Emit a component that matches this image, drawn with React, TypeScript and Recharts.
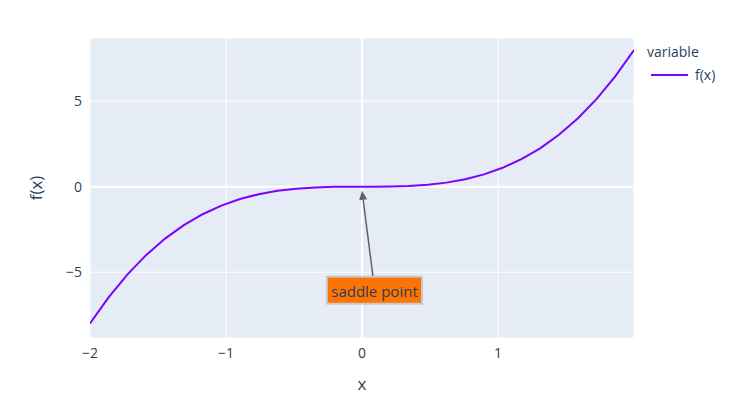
import React from "react";
import {
  LineChart,
  Line,
  XAxis,
  YAxis,
  CartesianGrid,
  ReferenceLine,
  ReferenceDot,
} from "recharts";

// values (30 samples from -2 to 2)
const xValues = [
  -2, -1.862, -1.724, -1.586, -1.448, -1.31, -1.172, -1.034, -0.897, -0.759,
  -0.621, -0.483, -0.345, -0.207, -0.069, 0.069, 0.207, 0.345, 0.483, 0.621,
  0.759, 0.897, 1.034, 1.172, 1.31, 1.448, 1.586, 1.724, 1.862, 2,
];
const fValues = [
  -8, -6.457, -5.124, -3.989, -3.036, -2.248, -1.61, -1.106, -0.721, -0.437,
  -0.239, -0.113, -0.041, -0.009, -0.0003, 0.0003, 0.009, 0.041, 0.113, 0.239,
  0.437, 0.721, 1.106, 1.61, 2.248, 3.036, 3.989, 5.124, 6.457, 8,
];
const xTicks = [-2, -1, 0, 1];
const yTicks = [-5, 0, 5];
const seriesName = "f(x)";
const legendTitle = "variable";
const annotationText = "saddle point";

const data = xValues.map((x, i) => ({ x, y: fValues[i] }));

const FONT = '"Open Sans", "Noto Sans", sans-serif';
const TEXT = "#2a3f5f";
const LINE = "#7f00ff";

const fmt = (v: number) => (v < 0 ? "\u2212" + Math.abs(v) : String(v));

const Annotation = (props: any) => {
  const { cx, cy } = props;
  if (cx == null || cy == null) return null;
  const tipX = cx;
  const tipY = cy + 4;
  const tailX = cx + 11;
  const tailY = cy + 90;
  const ang = Math.atan2(tipY - tailY, tipX - tailX);
  const hl = 9;
  const hw = 4;
  const bx = tipX - hl * Math.cos(ang);
  const by = tipY - hl * Math.sin(ang);
  const px = -Math.sin(ang) * hw;
  const py = Math.cos(ang) * hw;
  return (
    <g>
      <line x1={tailX} y1={tailY} x2={bx} y2={by} stroke="#636363" strokeWidth={1.5} />
      <polygon
        points={`${tipX},${tipY} ${bx + px},${by + py} ${bx - px},${by - py}`}
        fill="#636363"
      />
      <rect x={cx - 35} y={cy + 90} width={95} height={27} fill="#ff7300" stroke="#c7c7c7" strokeWidth={2} />
      <text
        x={cx + 12.5}
        y={cy + 104}
        textAnchor="middle"
        dominantBaseline="central"
        fontFamily={FONT}
        fontSize={15}
        fill={TEXT}
      >
        {annotationText}
      </text>
    </g>
  );
};

export default function App() {
  return (
    <div style={{ position: "fixed", left: 0, top: 0, width: 731, height: 409, background: "#fff", fontFamily: FONT }}>
      <LineChart
        width={731}
        height={409}
        data={data}
        margin={{ top: 38, right: 97, bottom: 0, left: 0 }}
      >
        <CartesianGrid fill="#e5ecf6" stroke="#ffffff" strokeWidth={1} />
        <XAxis
          dataKey="x"
          type="number"
          domain={[-2, 2]}
          ticks={xTicks}
          allowDataOverflow
          height={71}
          axisLine={false}
          tickLine={false}
          tickFormatter={fmt}
          tick={{ fill: TEXT, fontSize: 14, fontFamily: FONT }}
          tickMargin={4}
          label={(p: any) => {
            const vb = p.viewBox || {};
            return (
              <text x={vb.x + vb.width / 2} y={vb.y + 45} textAnchor="middle" dominantBaseline="central" fill={TEXT} fontSize={17} fontFamily={FONT}>
                x
              </text>
            );
          }}
        />
        <YAxis
          type="number"
          domain={[-8.85, 8.7]}
          ticks={yTicks}
          allowDataOverflow
          width={90}
          axisLine={false}
          tickLine={false}
          tickFormatter={fmt}
          tick={{ fill: TEXT, fontSize: 14, fontFamily: FONT }}
          tickMargin={2}
          label={(p: any) => {
            const vb = p.viewBox || {};
            const cx = 35;
            const cy = vb.y + vb.height / 2;
            return (
              <text x={cx} y={cy} transform={`rotate(-90 ${cx} ${cy})`} textAnchor="middle" dominantBaseline="central" fill={TEXT} fontSize={17} fontFamily={FONT}>
                {seriesName}
              </text>
            );
          }}
        />
        <ReferenceLine x={0} stroke="#ffffff" strokeWidth={2} />
        <ReferenceLine y={0} stroke="#ffffff" strokeWidth={2} />
        <Line
          type="linear"
          dataKey="y"
          name={seriesName}
          stroke={LINE}
          strokeWidth={2}
          dot={false}
          isAnimationActive={false}
        />
        <ReferenceDot x={0} y={0} r={0} shape={Annotation} ifOverflow="visible" />
      </LineChart>
      <div style={{ position: "absolute", left: 647, top: 42, color: TEXT, fontSize: 14 }}>
        <div style={{ lineHeight: "20px" }}>{legendTitle}</div>
        <div style={{ display: "flex", alignItems: "center", marginTop: 3 }}>
          <svg width={44} height={12}>
            <line x1={4} y1={6} x2={41} y2={6} stroke={LINE} strokeWidth={2} />
          </svg>
          <span style={{ marginLeft: 4, lineHeight: "20px" }}>{seriesName}</span>
        </div>
      </div>
    </div>
  );
}
